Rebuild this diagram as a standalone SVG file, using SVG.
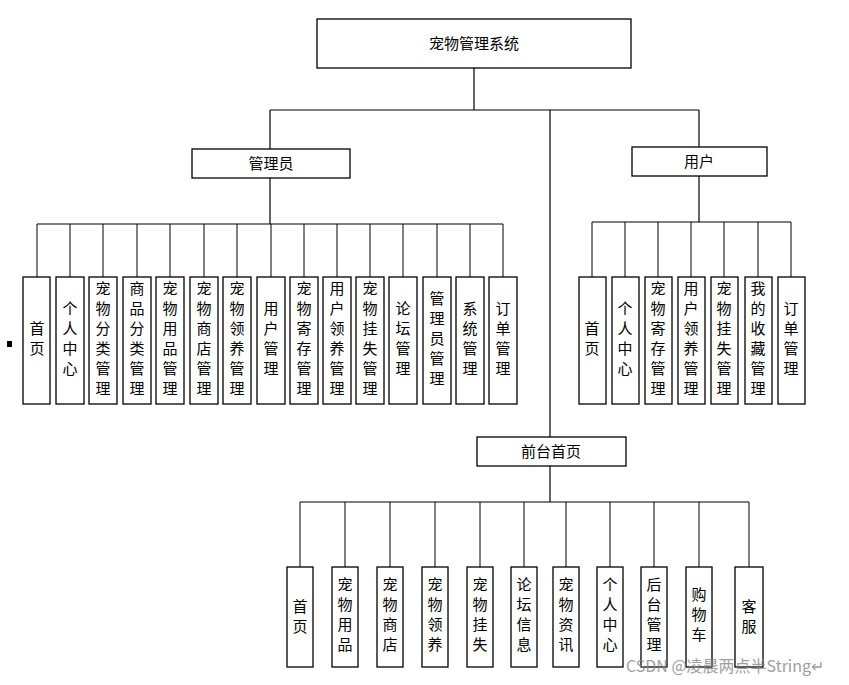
<svg xmlns="http://www.w3.org/2000/svg" width="849" height="685" viewBox="0 0 849 685">
<style>
rect{fill:#fff;stroke:#000;stroke-width:1.3}
text{font-family:"Noto Sans CJK SC","Liberation Sans",sans-serif;font-size:15px;fill:#000;text-anchor:middle}
.c line{stroke:#000;stroke-width:1.2}
</style>
<rect width="849" height="685" style="stroke:none"/>
<g class="c" id="connectors">
<line x1="474" y1="68" x2="474" y2="110"/>
<line x1="270" y1="110" x2="699" y2="110"/>
<line x1="270" y1="110" x2="270" y2="149"/>
<line x1="699" y1="110" x2="699" y2="147"/>
<line x1="550" y1="110" x2="550" y2="437"/>
<line x1="270" y1="178" x2="270" y2="224"/>
<line x1="37" y1="224" x2="503" y2="224"/>
<line x1="699" y1="176" x2="699" y2="222"/>
<line x1="592" y1="222" x2="791" y2="222"/>
<line x1="550" y1="466" x2="550" y2="502"/>
<line x1="300" y1="502" x2="749" y2="502"/>
</g>
<g id="root"><rect x="317" y="19" width="314" height="49"/><text x="474" y="49">宠物管理系统</text></g>
<g id="admin"><rect x="192" y="149" width="158" height="29"/><text x="271" y="169">管理员</text></g>
<g id="user"><rect x="632" y="147" width="135" height="29"/><text x="699" y="167">用户</text></g>
<g id="front"><rect x="477" y="437" width="149" height="29"/><text x="551" y="457">前台首页</text></g>
<rect x="7" y="341" width="5" height="6" style="fill:#000;stroke:none"/>
<g id="adminItems">
<g id="a1"><line x1="37" y1="224" x2="37" y2="277" stroke="#000"/><rect x="23" y="277" width="27" height="127"/><text x="37" y="334"><tspan x="37">首</tspan><tspan x="37" dy="20">页</tspan></text></g>
<g id="a2"><line x1="70" y1="224" x2="70" y2="277" stroke="#000"/><rect x="56" y="277" width="28" height="127"/><text x="70" y="314"><tspan x="70">个</tspan><tspan x="70" dy="20">人</tspan><tspan x="70" dy="20">中</tspan><tspan x="70" dy="20">心</tspan></text></g>
<g id="a3"><line x1="103" y1="224" x2="103" y2="277" stroke="#000"/><rect x="89" y="277" width="28" height="127"/><text x="103" y="294"><tspan x="103">宠</tspan><tspan x="103" dy="20">物</tspan><tspan x="103" dy="20">分</tspan><tspan x="103" dy="20">类</tspan><tspan x="103" dy="20">管</tspan><tspan x="103" dy="20">理</tspan></text></g>
<g id="a4"><line x1="137" y1="224" x2="137" y2="277" stroke="#000"/><rect x="123" y="277" width="28" height="127"/><text x="137" y="294"><tspan x="137">商</tspan><tspan x="137" dy="20">品</tspan><tspan x="137" dy="20">分</tspan><tspan x="137" dy="20">类</tspan><tspan x="137" dy="20">管</tspan><tspan x="137" dy="20">理</tspan></text></g>
<g id="a5"><line x1="170" y1="224" x2="170" y2="277" stroke="#000"/><rect x="156" y="277" width="28" height="127"/><text x="170" y="294"><tspan x="170">宠</tspan><tspan x="170" dy="20">物</tspan><tspan x="170" dy="20">用</tspan><tspan x="170" dy="20">品</tspan><tspan x="170" dy="20">管</tspan><tspan x="170" dy="20">理</tspan></text></g>
<g id="a6"><line x1="204" y1="224" x2="204" y2="277" stroke="#000"/><rect x="190" y="277" width="28" height="127"/><text x="204" y="294"><tspan x="204">宠</tspan><tspan x="204" dy="20">物</tspan><tspan x="204" dy="20">商</tspan><tspan x="204" dy="20">店</tspan><tspan x="204" dy="20">管</tspan><tspan x="204" dy="20">理</tspan></text></g>
<g id="a7"><line x1="237" y1="224" x2="237" y2="277" stroke="#000"/><rect x="223" y="277" width="28" height="127"/><text x="237" y="294"><tspan x="237">宠</tspan><tspan x="237" dy="20">物</tspan><tspan x="237" dy="20">领</tspan><tspan x="237" dy="20">养</tspan><tspan x="237" dy="20">管</tspan><tspan x="237" dy="20">理</tspan></text></g>
<g id="a8"><line x1="271" y1="224" x2="271" y2="277" stroke="#000"/><rect x="257" y="277" width="28" height="127"/><text x="271" y="314"><tspan x="271">用</tspan><tspan x="271" dy="20">户</tspan><tspan x="271" dy="20">管</tspan><tspan x="271" dy="20">理</tspan></text></g>
<g id="a9"><line x1="304" y1="224" x2="304" y2="277" stroke="#000"/><rect x="290" y="277" width="28" height="127"/><text x="304" y="294"><tspan x="304">宠</tspan><tspan x="304" dy="20">物</tspan><tspan x="304" dy="20">寄</tspan><tspan x="304" dy="20">存</tspan><tspan x="304" dy="20">管</tspan><tspan x="304" dy="20">理</tspan></text></g>
<g id="a10"><line x1="337" y1="224" x2="337" y2="277" stroke="#000"/><rect x="323" y="277" width="28" height="127"/><text x="337" y="294"><tspan x="337">用</tspan><tspan x="337" dy="20">户</tspan><tspan x="337" dy="20">领</tspan><tspan x="337" dy="20">养</tspan><tspan x="337" dy="20">管</tspan><tspan x="337" dy="20">理</tspan></text></g>
<g id="a11"><line x1="370" y1="224" x2="370" y2="277" stroke="#000"/><rect x="356" y="277" width="28" height="127"/><text x="370" y="294"><tspan x="370">宠</tspan><tspan x="370" dy="20">物</tspan><tspan x="370" dy="20">挂</tspan><tspan x="370" dy="20">失</tspan><tspan x="370" dy="20">管</tspan><tspan x="370" dy="20">理</tspan></text></g>
<g id="a12"><line x1="403" y1="224" x2="403" y2="277" stroke="#000"/><rect x="389" y="277" width="28" height="127"/><text x="403" y="314"><tspan x="403">论</tspan><tspan x="403" dy="20">坛</tspan><tspan x="403" dy="20">管</tspan><tspan x="403" dy="20">理</tspan></text></g>
<g id="a13"><line x1="437" y1="224" x2="437" y2="277" stroke="#000"/><rect x="423" y="277" width="28" height="127"/><text x="437" y="304"><tspan x="437">管</tspan><tspan x="437" dy="20">理</tspan><tspan x="437" dy="20">员</tspan><tspan x="437" dy="20">管</tspan><tspan x="437" dy="20">理</tspan></text></g>
<g id="a14"><line x1="470" y1="224" x2="470" y2="277" stroke="#000"/><rect x="456" y="277" width="28" height="127"/><text x="470" y="314"><tspan x="470">系</tspan><tspan x="470" dy="20">统</tspan><tspan x="470" dy="20">管</tspan><tspan x="470" dy="20">理</tspan></text></g>
<g id="a15"><line x1="503" y1="224" x2="503" y2="277" stroke="#000"/><rect x="489" y="277" width="28" height="127"/><text x="503" y="314"><tspan x="503">订</tspan><tspan x="503" dy="20">单</tspan><tspan x="503" dy="20">管</tspan><tspan x="503" dy="20">理</tspan></text></g>
</g>
<g id="userItems">
<g id="u1"><line x1="592" y1="222" x2="592" y2="277" stroke="#000"/><rect x="579" y="277" width="27" height="127"/><text x="592" y="334"><tspan x="592">首</tspan><tspan x="592" dy="20">页</tspan></text></g>
<g id="u2"><line x1="625" y1="222" x2="625" y2="277" stroke="#000"/><rect x="612" y="277" width="27" height="127"/><text x="625" y="314"><tspan x="625">个</tspan><tspan x="625" dy="20">人</tspan><tspan x="625" dy="20">中</tspan><tspan x="625" dy="20">心</tspan></text></g>
<g id="u3"><line x1="658" y1="222" x2="658" y2="277" stroke="#000"/><rect x="645" y="277" width="27" height="127"/><text x="658" y="294"><tspan x="658">宠</tspan><tspan x="658" dy="20">物</tspan><tspan x="658" dy="20">寄</tspan><tspan x="658" dy="20">存</tspan><tspan x="658" dy="20">管</tspan><tspan x="658" dy="20">理</tspan></text></g>
<g id="u4"><line x1="691" y1="222" x2="691" y2="277" stroke="#000"/><rect x="678" y="277" width="27" height="127"/><text x="691" y="294"><tspan x="691">用</tspan><tspan x="691" dy="20">户</tspan><tspan x="691" dy="20">领</tspan><tspan x="691" dy="20">养</tspan><tspan x="691" dy="20">管</tspan><tspan x="691" dy="20">理</tspan></text></g>
<g id="u5"><line x1="724" y1="222" x2="724" y2="277" stroke="#000"/><rect x="711" y="277" width="27" height="127"/><text x="724" y="294"><tspan x="724">宠</tspan><tspan x="724" dy="20">物</tspan><tspan x="724" dy="20">挂</tspan><tspan x="724" dy="20">失</tspan><tspan x="724" dy="20">管</tspan><tspan x="724" dy="20">理</tspan></text></g>
<g id="u6"><line x1="758" y1="222" x2="758" y2="277" stroke="#000"/><rect x="745" y="277" width="27" height="127"/><text x="758" y="294"><tspan x="758">我</tspan><tspan x="758" dy="20">的</tspan><tspan x="758" dy="20">收</tspan><tspan x="758" dy="20">藏</tspan><tspan x="758" dy="20">管</tspan><tspan x="758" dy="20">理</tspan></text></g>
<g id="u7"><line x1="791" y1="222" x2="791" y2="277" stroke="#000"/><rect x="778" y="277" width="27" height="127"/><text x="791" y="314"><tspan x="791">订</tspan><tspan x="791" dy="20">单</tspan><tspan x="791" dy="20">管</tspan><tspan x="791" dy="20">理</tspan></text></g>
</g>
<g id="frontItems">
<g id="f1"><line x1="300" y1="502" x2="300" y2="567" stroke="#000"/><rect x="287" y="567" width="26" height="100"/><text x="300" y="612"><tspan x="300">首</tspan><tspan x="300" dy="20">页</tspan></text></g>
<g id="f2"><line x1="345" y1="502" x2="345" y2="567" stroke="#000"/><rect x="332" y="567" width="26" height="100"/><text x="345" y="590"><tspan x="345">宠</tspan><tspan x="345" dy="20">物</tspan><tspan x="345" dy="20">用</tspan><tspan x="345" dy="20">品</tspan></text></g>
<g id="f3"><line x1="390" y1="502" x2="390" y2="567" stroke="#000"/><rect x="377" y="567" width="26" height="100"/><text x="390" y="590"><tspan x="390">宠</tspan><tspan x="390" dy="20">物</tspan><tspan x="390" dy="20">商</tspan><tspan x="390" dy="20">店</tspan></text></g>
<g id="f4"><line x1="435" y1="502" x2="435" y2="567" stroke="#000"/><rect x="422" y="567" width="26" height="100"/><text x="435" y="590"><tspan x="435">宠</tspan><tspan x="435" dy="20">物</tspan><tspan x="435" dy="20">领</tspan><tspan x="435" dy="20">养</tspan></text></g>
<g id="f5"><line x1="480" y1="502" x2="480" y2="567" stroke="#000"/><rect x="467" y="567" width="26" height="100"/><text x="480" y="590"><tspan x="480">宠</tspan><tspan x="480" dy="20">物</tspan><tspan x="480" dy="20">挂</tspan><tspan x="480" dy="20">失</tspan></text></g>
<g id="f6"><line x1="524" y1="502" x2="524" y2="567" stroke="#000"/><rect x="511" y="567" width="26" height="100"/><text x="524" y="590"><tspan x="524">论</tspan><tspan x="524" dy="20">坛</tspan><tspan x="524" dy="20">信</tspan><tspan x="524" dy="20">息</tspan></text></g>
<g id="f7"><line x1="566" y1="502" x2="566" y2="567" stroke="#000"/><rect x="553" y="567" width="26" height="100"/><text x="566" y="590"><tspan x="566">宠</tspan><tspan x="566" dy="20">物</tspan><tspan x="566" dy="20">资</tspan><tspan x="566" dy="20">讯</tspan></text></g>
<g id="f8"><line x1="610" y1="502" x2="610" y2="567" stroke="#000"/><rect x="597" y="567" width="26" height="100"/><text x="610" y="590"><tspan x="610">个</tspan><tspan x="610" dy="20">人</tspan><tspan x="610" dy="20">中</tspan><tspan x="610" dy="20">心</tspan></text></g>
<g id="f9"><line x1="654" y1="502" x2="654" y2="567" stroke="#000"/><rect x="641" y="567" width="26" height="100"/><text x="654" y="590"><tspan x="654">后</tspan><tspan x="654" dy="20">台</tspan><tspan x="654" dy="20">管</tspan><tspan x="654" dy="20">理</tspan></text></g>
<g id="f10"><line x1="699" y1="502" x2="699" y2="567" stroke="#000"/><rect x="686" y="567" width="26" height="100"/><text x="699" y="600"><tspan x="699">购</tspan><tspan x="699" dy="20">物</tspan><tspan x="699" dy="20">车</tspan></text></g>
<g id="f11"><line x1="749" y1="502" x2="749" y2="567" stroke="#000"/><rect x="735" y="567" width="28" height="100"/><text x="749" y="612"><tspan x="749">客</tspan><tspan x="749" dy="20">服</tspan></text></g>
</g>
<text x="725" y="672" style="font-size:16px;fill:#888;opacity:0.8">CSDN @凌晨两点半String↵</text>
</svg>
